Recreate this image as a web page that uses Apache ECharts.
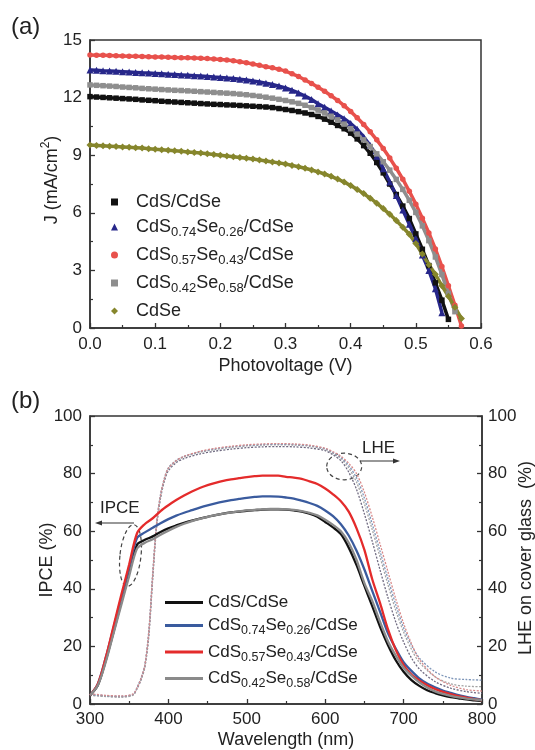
<!DOCTYPE html>
<html><head><meta charset="utf-8">
<script src="https://cdn.jsdelivr.net/npm/echarts@6/dist/echarts.min.js"></script>
<style>html,body{margin:0;padding:0;background:#fff}#c{width:535px;height:750px}</style>
</head><body><div id="c"></div>
<script>
// ---------- Panel (a): J-V curves ----------
const voltage = [0.00,0.01,0.02,0.03,0.04,0.05,0.06,0.07,0.08,0.09,0.10,0.11,0.12,0.13,0.14,0.15,0.16,0.17,0.18,0.19,0.20,0.21,0.22,0.23,0.24,0.25,0.26,0.27,0.28,0.29,0.30,0.31,0.32,0.33,0.34,0.35,0.36,0.37,0.38,0.39,0.40,0.41,0.42,0.43,0.44,0.45,0.46,0.47,0.48,0.49,0.50,0.51,0.52,0.53,0.54,0.55,0.56,0.57,0.58];
const jCdS_CdSe = [12.05,12.03,12.01,11.99,11.97,11.95,11.93,11.91,11.88,11.86,11.84,11.81,11.79,11.77,11.75,11.73,11.71,11.69,11.67,11.65,11.64,11.62,11.61,11.59,11.57,11.55,11.53,11.51,11.48,11.43,11.38,11.33,11.27,11.20,11.12,11.02,10.88,10.72,10.55,10.38,10.15,9.85,9.50,9.10,8.62,8.08,7.50,6.95,6.35,5.70,4.90,4.10,3.25,2.35,1.45,0.45,null,null,null];
const jS074 = [13.44,13.42,13.40,13.39,13.37,13.35,13.33,13.31,13.29,13.28,13.26,13.24,13.22,13.20,13.18,13.16,13.14,13.12,13.10,13.07,13.05,13.02,13.00,12.96,12.92,12.87,12.81,12.75,12.68,12.60,12.50,12.38,12.24,12.08,11.90,11.68,11.50,11.30,11.10,10.90,10.65,10.35,9.95,9.50,8.95,8.30,7.60,6.90,6.15,5.40,4.65,3.80,3.00,2.05,0.80,null,null,null,null];
const jS057 = [14.22,14.21,14.20,14.19,14.18,14.17,14.16,14.15,14.14,14.13,14.12,14.11,14.10,14.09,14.08,14.07,14.06,14.05,14.03,14.01,13.99,13.96,13.92,13.87,13.81,13.75,13.68,13.61,13.55,13.48,13.38,13.24,13.10,12.92,12.74,12.54,12.33,12.10,11.85,11.58,11.28,10.95,10.60,10.22,9.80,9.35,8.85,8.32,7.75,7.12,6.45,5.72,4.95,4.12,3.20,2.20,1.18,0.10,null];
const jS042 = [12.66,12.64,12.62,12.60,12.58,12.55,12.53,12.51,12.48,12.46,12.44,12.42,12.40,12.38,12.37,12.35,12.33,12.31,12.29,12.27,12.25,12.23,12.21,12.18,12.15,12.11,12.07,12.02,11.97,11.91,11.85,11.78,11.70,11.60,11.48,11.35,11.20,11.03,10.84,10.62,10.38,10.10,9.80,9.45,9.07,8.66,8.22,7.74,7.22,6.65,6.02,5.32,4.55,3.70,2.78,1.80,0.85,null,null];
const jCdSe = [9.53,9.51,9.49,9.47,9.45,9.43,9.41,9.39,9.37,9.34,9.31,9.29,9.26,9.23,9.20,9.17,9.14,9.11,9.07,9.04,9.00,8.96,8.92,8.88,8.84,8.80,8.75,8.70,8.65,8.60,8.54,8.47,8.40,8.32,8.23,8.13,8.02,7.90,7.76,7.60,7.42,7.22,7.00,6.76,6.50,6.22,5.92,5.60,5.25,4.88,4.40,3.85,3.30,2.80,2.20,1.65,1.08,0.50,null];

// ---------- Panel (b): IPCE and LHE ----------
const wavelength = [300,310,320,330,340,350,360,370,380,390,400,410,420,430,440,450,460,470,480,490,500,510,520,530,540,550,560,570,580,590,600,610,620,630,640,650,660,670,680,690,700,710,720,730,740,750,760,770,780,790,800];
const ipceCdS_CdSe = [3.0,6.5,15,25,35.5,45.5,55.3,57.0,58.2,59.7,61.0,62.0,62.9,63.7,64.4,65.0,65.6,66.1,66.5,66.8,67.1,67.3,67.5,67.6,67.6,67.5,67.2,66.8,66.1,65.0,63.2,61.3,59.0,54.3,48.2,41.0,34.0,26.8,20.5,15.2,11.2,8.3,6.3,4.8,3.8,3.0,2.4,2.0,1.6,1.3,1.0];
const ipceS074 = [3.0,7,16,26.5,37,47.5,57.6,59.6,61.2,62.8,64.2,65.4,66.4,67.3,68.2,69.0,69.7,70.3,70.8,71.2,71.6,71.9,72.1,72.1,72.0,71.7,71.3,70.6,69.8,68.8,67.2,65.2,62.4,58.5,53.2,46.7,39.3,32.0,24.6,19.2,14.5,11.5,8.9,7.1,5.8,4.7,3.9,3.1,2.5,2.0,1.5];
const ipceS057 = [3.0,7,16,27,38,48.5,59.3,62.5,64.5,67.0,69.0,70.8,72.4,73.8,75.0,76.0,76.8,77.5,78.0,78.4,78.8,79.1,79.3,79.3,79.3,78.9,78.6,78.2,77.3,76.4,74.8,72.8,70.4,66.8,61.0,53.5,43.3,35.0,26.0,18.8,13.5,10.2,8.2,6.5,5.2,4.2,3.4,2.7,2.2,1.7,1.3];
const ipceS042 = [3.0,6.5,14.5,24.5,34.5,44.5,54.0,56.0,57.2,58.8,60.2,61.5,62.6,63.5,64.3,65.0,65.6,66.1,66.5,66.9,67.2,67.4,67.6,67.7,67.7,67.6,67.4,67.0,66.4,65.5,64.0,62.2,60.0,56.0,50.0,42.0,35.8,28.5,21.8,16.8,12.6,9.8,7.5,5.7,4.4,3.5,2.8,2.3,1.9,1.6,1.3];

const lheWavelength = [300,320,340,355,360,365,370,375,380,385,390,395,400,410,420,440,460,480,500,520,540,560,580,600,610,620,630,640,650,660,670,680,690,700,710,720,740,760,780,800];
const lheA = [3.2,2.7,2.5,3.2,5.3,8.3,12.8,23.5,43.5,61.5,71.5,77.5,81.0,83.8,85.2,86.8,87.8,88.5,89.0,89.3,89.4,89.3,88.9,88.0,86.5,84.5,80.5,74.5,66.0,56.5,46.5,37.0,28.5,21.5,16.0,12.2,7.8,5.5,4.3,3.7];
const lheB = [3.0,2.6,2.4,3.1,5.5,8.6,13.2,24.5,44.5,62.5,72.3,78.2,81.8,84.4,85.8,87.4,88.4,89.1,89.6,89.9,90.0,89.9,89.5,88.4,87.0,85.3,82.0,77.0,69.5,60.5,51.0,41.5,32.5,25.0,19.0,14.5,9.5,7.0,6.2,6.0];
const lheC = [3.4,2.9,2.7,3.4,5.8,9.0,13.8,25.5,45.5,63.2,72.8,78.6,82.0,84.6,86.0,87.6,88.6,89.3,89.8,90.1,90.2,90.1,89.7,88.6,87.3,85.6,82.8,78.5,71.5,62.5,53.0,43.5,34.5,26.5,20.5,16.0,11.2,9.0,8.5,8.3];
const lheD = [3.6,3.0,2.8,3.5,5.6,8.8,13.5,25.0,45.0,62.8,72.6,78.4,81.9,84.5,86.0,87.7,88.8,89.5,90.0,90.3,90.4,90.3,89.9,88.8,87.6,86.0,83.6,80.0,73.5,65.0,55.5,46.0,36.5,28.0,21.0,15.5,9.5,6.5,5.0,4.5];

const sampleNames = ['CdS/CdSe','CdS0.74Se0.26/CdSe','CdS0.57Se0.43/CdSe','CdS0.42Se0.58/CdSe','CdSe'];

const FONT = 'Liberation Sans, Arial, sans-serif';
const AX = '#333';
function pairs(xs, ys){ const out=[]; xs.forEach((x,i)=>{ if(ys[i]!=null) out.push([x,ys[i]]); }); return out; }
function richName(name, gap){
  const nm = name.replace(/^b:/,'');
  const m = nm.match(/^CdS(\d\.\d+)Se(\d\.\d+)\/CdSe$/);
  const g = gap ? '{g|}' : '';
  if (m) return g+'{n|CdS}{s|'+m[1]+'}{n|Se}{s|'+m[2]+'}{n|/CdSe}';
  return g+'{n|'+nm+'}';
}
function axisCommon(){
  return {
    axisLine:{show:true,lineStyle:{color:AX,width:1.5}},
    axisTick:{show:true,inside:true,length:5,lineStyle:{color:AX,width:1.3}},
    minorTick:{show:true,splitNumber:2,length:3,lineStyle:{color:AX,width:1.2}},
    splitLine:{show:false}, minorSplitLine:{show:false}
  };
}

const chart = echarts.init(document.getElementById('c'), null, {renderer:'canvas'});

const jvSets = [
  {name:sampleNames[0], data:jCdS_CdSe, color:'#111111', symbol:'rect', size:5.5},
  {name:sampleNames[1], data:jS074, color:'#27278a', symbol:'triangle', size:7},
  {name:sampleNames[2], data:jS057, color:'#e8514c', symbol:'circle', size:5.5},
  {name:sampleNames[3], data:jS042, color:'#8e8e8e', symbol:'rect', size:5.5},
  {name:sampleNames[4], data:jCdSe, color:'#86862c', symbol:'diamond', size:7}
];
const ipceSets = [
  {name:'b:'+sampleNames[0], data:ipceCdS_CdSe, color:'#111111'},
  {name:'b:'+sampleNames[1], data:ipceS074, color:'#3a5b9e'},
  {name:'b:'+sampleNames[2], data:ipceS057, color:'#e42b2b'},
  {name:'b:'+sampleNames[3], data:ipceS042, color:'#8a8a8a'}
];
const lheSets = [
  {data:lheA, color:'#6f6a80'},
  {data:lheB, color:'#a3a3a3'},
  {data:lheC, color:'#7d95b8'},
  {data:lheD, color:'#d88a8a'}
];

const series = [];
jvSets.forEach(s=>{
  series.push({type:'line', name:s.name, xAxisIndex:0, yAxisIndex:0, data:pairs(voltage,s.data),
    symbol:s.symbol, symbolSize:s.size, showSymbol:true, showAllSymbol:true,
    itemStyle:{color:s.color}, lineStyle:{color:s.color,width:3.5}, animation:false, z:3});
});
lheSets.forEach((s,i)=>{
  series.push({type:'line', name:'lhe'+i, xAxisIndex:1, yAxisIndex:2, data:pairs(lheWavelength,s.data),
    showSymbol:false, smooth:0.3,
    lineStyle:{color:s.color,width:1.3,type:[2,1.5]}, itemStyle:{color:s.color}, animation:false, z:2});
});
ipceSets.forEach(s=>{
  series.push({type:'line', name:s.name, xAxisIndex:1, yAxisIndex:1, data:pairs(wavelength,s.data),
    showSymbol:false, smooth:0.3,
    lineStyle:{color:s.color,width:2.3}, itemStyle:{color:s.color}, animation:false, z:4});
});

const legendRichA = {
  g:{width:13},
  n:{fontSize:18, fontFamily:FONT, color:'#222'},
  s:{fontSize:13, fontFamily:FONT, color:'#222', padding:[11,0,0,0]}
};
const legendRichB = {
  n:{fontSize:17, fontFamily:FONT, color:'#222'},
  s:{fontSize:12.5, fontFamily:FONT, color:'#222', padding:[11,0,0,0]}
};

const option = {
  animation:false,
  backgroundColor:'#fff',
  grid:[
    {left:90, top:40, width:391, height:288, show:true, borderColor:AX, borderWidth:1.5, containLabel:false},
    {left:90, top:416, width:392, height:288, show:true, borderColor:AX, borderWidth:1.5, containLabel:false}
  ],
  xAxis:[
    Object.assign(axisCommon(), {gridIndex:0, type:'value', min:0, max:0.6, interval:0.1,
      axisLabel:{formatter:v=>v.toFixed(1), fontSize:17, color:'#222', margin:8, fontFamily:FONT},
      name:'Photovoltage (V)', nameLocation:'middle', nameGap:29,
      nameTextStyle:{fontSize:18, color:'#222', fontFamily:FONT}}),
    Object.assign(axisCommon(), {gridIndex:1, type:'value', min:300, max:800, interval:100,
      axisLabel:{fontSize:17, color:'#222', margin:7, fontFamily:FONT},
      name:'Wavelength (nm)', nameLocation:'middle', nameGap:27,
      nameTextStyle:{fontSize:18, color:'#222', fontFamily:FONT}})
  ],
  yAxis:[
    Object.assign(axisCommon(), {gridIndex:0, type:'value', min:0, max:15, interval:3,
      axisLabel:{fontSize:17, color:'#222', margin:8, fontFamily:FONT}}),
    Object.assign(axisCommon(), {gridIndex:1, type:'value', min:0, max:100, interval:20,
      axisLabel:{fontSize:17, color:'#222', margin:8, fontFamily:FONT}}),
    Object.assign(axisCommon(), {gridIndex:1, type:'value', position:'right', min:0, max:100, interval:20,
      axisLabel:{fontSize:17, color:'#222', margin:6, fontFamily:FONT}})
  ],
  legend:[
    {orient:'vertical', left:111, top:193, padding:0, itemWidth:7, itemHeight:7, itemGap:7,
     data:[
       {name:sampleNames[0], icon:'rect'},
       {name:sampleNames[1], icon:'triangle'},
       {name:sampleNames[2], icon:'circle'},
       {name:sampleNames[3], icon:'rect'},
       {name:sampleNames[4], icon:'diamond'}],
     formatter:n=>richName(n,true), textStyle:{rich:legendRichA}, selectedMode:false},
    {orient:'vertical', left:165, top:594, padding:0, itemWidth:38, itemHeight:3, itemGap:6,
     data:ipceSets.map(s=>({name:s.name, icon:'rect'})),
     formatter:n=>richName(n,false), textStyle:{rich:legendRichB}, selectedMode:false}
  ],
  graphic:[
    {type:'text', left:11, top:15, style:{text:'(a)', font:'24px '+FONT, fill:'#222'}},
    {type:'text', left:11, top:389, style:{text:'(b)', font:'24px '+FONT, fill:'#222'}},
    // y-axis titles
    {type:'text', x:52, y:180, rotation:Math.PI/2,
     style:{text:'{n|J (mA/cm}{p|2}{n|)}', align:'center', verticalAlign:'middle',
       rich:{n:{fontSize:18,fill:'#222',fontFamily:FONT}, p:{fontSize:12,fill:'#222',fontFamily:FONT,padding:[0,0,12,0]}}}},
    {type:'text', x:47, y:560, rotation:Math.PI/2,
     style:{text:'IPCE (%)', font:'18px '+FONT, fill:'#222', align:'center', verticalAlign:'middle'}},
    {type:'text', x:526, y:558, rotation:Math.PI/2,
     style:{text:'LHE on cover glass  (%)', font:'18px '+FONT, fill:'#222', align:'center', verticalAlign:'middle'}},
    // annotations
    {type:'text', x:100, y:500, style:{text:'IPCE', font:'17px '+FONT, fill:'#222'}},
    {type:'line', shape:{x1:134, y1:523, x2:100, y2:523}, style:{stroke:'#333', lineWidth:1.2}},
    {type:'polygon', shape:{points:[[95,523],[102,520.5],[102,525.5]]}, style:{fill:'#333'}},
    {type:'ellipse', shape:{cx:0, cy:0, rx:10.5, ry:31}, x:130.5, y:555.5, rotation:-0.11,
     style:{fill:'none', stroke:'#444', lineWidth:1.2, lineDash:[4,3]}},
    {type:'text', x:362, y:440, style:{text:'LHE', font:'17px '+FONT, fill:'#222'}},
    {type:'line', shape:{x1:360, y1:461, x2:394, y2:461}, style:{stroke:'#333', lineWidth:1.2}},
    {type:'polygon', shape:{points:[[400,461],[393,458.5],[393,463.5]]}, style:{fill:'#333'}},
    {type:'ellipse', shape:{cx:0, cy:0, rx:17.5, ry:13.3}, x:344.2, y:466.5,
     style:{fill:'none', stroke:'#444', lineWidth:1.2, lineDash:[4,3]}}
  ],
  series:series
};
chart.setOption(option);
</script>
</body></html>
